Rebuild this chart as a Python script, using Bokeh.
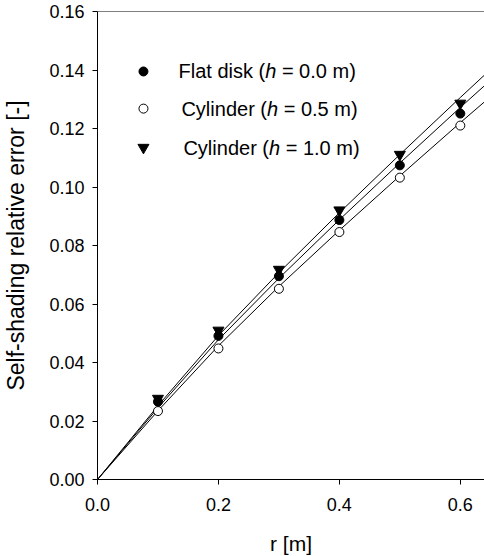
from bokeh.plotting import figure
from bokeh.models import Range1d, Span, Label, FixedTicker, NumeralTickFormatter
from bokeh.embed import file_html
from bokeh.resources import INLINE

# Measured points
R_POINTS = [0.1, 0.2, 0.3, 0.4, 0.5, 0.6]
FLAT_DISK = [0.0266, 0.0491, 0.0695, 0.0887, 0.1074, 0.1251]
CYL_05 = [0.0234, 0.0448, 0.0652, 0.0846, 0.1032, 0.1210]
CYL_10 = [0.0277, 0.0510, 0.0718, 0.0921, 0.1111, 0.1286]

# Fitted curves
CURVE_R = [0.0, 0.1, 0.2, 0.3, 0.4, 0.5, 0.6, 0.65]
CURVE_FLAT = [0.0, 0.0245, 0.0478, 0.0688, 0.0888, 0.1082, 0.1272, 0.1365]
CURVE_CYL05 = [0.0, 0.0235, 0.0457, 0.0660, 0.0852, 0.1038, 0.1220, 0.1309]
CURVE_CYL10 = [0.0, 0.0252, 0.0492, 0.0707, 0.0912, 0.1111, 0.1306, 0.1402]

Y_TICKS = [0.0, 0.02, 0.04, 0.06, 0.08, 0.10, 0.12, 0.14, 0.16]
X_TICKS = [0.0, 0.2, 0.4, 0.6]

LEGEND_LABELS = [("Flat disk (", "h", "= 0.0 m)"),
                 ("Cylinder (", "h", "= 0.5 m)"),
                 ("Cylinder (", "h", "= 1.0 m)")]

FONT = "Liberation Sans"

p = figure(frame_width=387, frame_height=468, output_backend="svg", toolbar_location=None,
           x_range=Range1d(0, 0.64), y_range=Range1d(0, 0.16),
           min_border_left=94, min_border_right=0, min_border_top=11, min_border_bottom=70)
p.outline_line_color = None
p.xgrid.visible = False
p.ygrid.visible = False
p.background_fill_color = "white"
p.border_fill_color = "white"

for ax in (p.xaxis[0], p.yaxis[0]):
    ax.axis_line_color = "black"
    ax.axis_line_width = 1
    ax.major_tick_line_color = "black"
    ax.major_tick_out = 5
    ax.major_tick_in = 0
    ax.minor_tick_line_color = None
    ax.major_label_text_font = FONT
    ax.major_label_text_font_size = "18px"
    ax.major_label_text_color = "black"
    ax.axis_label_text_font = FONT
    ax.axis_label_text_font_style = "normal"
    ax.axis_label_text_color = "black"

p.yaxis.ticker = FixedTicker(ticks=Y_TICKS)
p.yaxis.formatter = NumeralTickFormatter(format="0.00")
p.yaxis.axis_label = "Self-shading relative error [-]"
p.yaxis.axis_label_text_font_size = "23px"
p.yaxis.major_label_standoff = 8
p.yaxis.axis_label_standoff = 17

p.xaxis.ticker = FixedTicker(ticks=X_TICKS)
p.xaxis.formatter = NumeralTickFormatter(format="0.0")
p.xaxis.axis_label = "r [m]"
p.xaxis.axis_label_text_font_size = "21px"
p.xaxis.major_label_standoff = 13
p.xaxis.axis_label_standoff = 18

p.add_layout(Span(location=0.16, dimension="width", line_color="black", line_width=1))

# curves
for ys in (CURVE_FLAT, CURVE_CYL05, CURVE_CYL10):
    p.line(CURVE_R, ys, line_color="black", line_width=1)

# points
p.scatter(R_POINTS, CYL_10, marker="inverted_triangle", size=11, fill_color="black", line_color="black")
p.scatter(R_POINTS, FLAT_DISK, marker="circle", size=9, fill_color="black", line_color="black")
p.scatter(R_POINTS, CYL_05, marker="circle", size=9, fill_color="white", line_color="black")

# custom legend
leg_marker_x = 0.076
leg_y = [0.1395, 0.1268, 0.1135]
leg_text_x = [0.134, 0.1388, 0.1421]
p.scatter([leg_marker_x], [leg_y[0]], marker="circle", size=9, fill_color="black", line_color="black")
p.scatter([leg_marker_x], [leg_y[1]], marker="circle", size=9, fill_color="white", line_color="black")
p.scatter([leg_marker_x], [leg_y[2]], marker="inverted_triangle", size=11, fill_color="black", line_color="black")

FS = 20
W = {"F": 611, "l": 222, "a": 556, "t": 278, " ": 278, "d": 556, "i": 222, "s": 500, "k": 500,
     "(": 333, "C": 722, "y": 500, "n": 556, "e": 556, "r": 333, "h": 556}

def width(s):
    return sum(W.get(c, 556) for c in s) / 1000.0 * FS

for (a, b, c), x, y in zip(LEGEND_LABELS, leg_text_x, leg_y):
    off = 0
    for seg, style, extra in ((a, "normal", 0), (b, "italic", W[" "] / 1000.0 * FS), (c, "normal", 0)):
        p.add_layout(Label(x=x, y=y, x_offset=off, text=seg, text_font=FONT,
                           text_font_size=f"{FS}px", text_font_style=style,
                           text_baseline="middle", text_align="left", text_color="black"))
        off += width(seg) + extra

open("out.html", "w").write(file_html(p, INLINE))
